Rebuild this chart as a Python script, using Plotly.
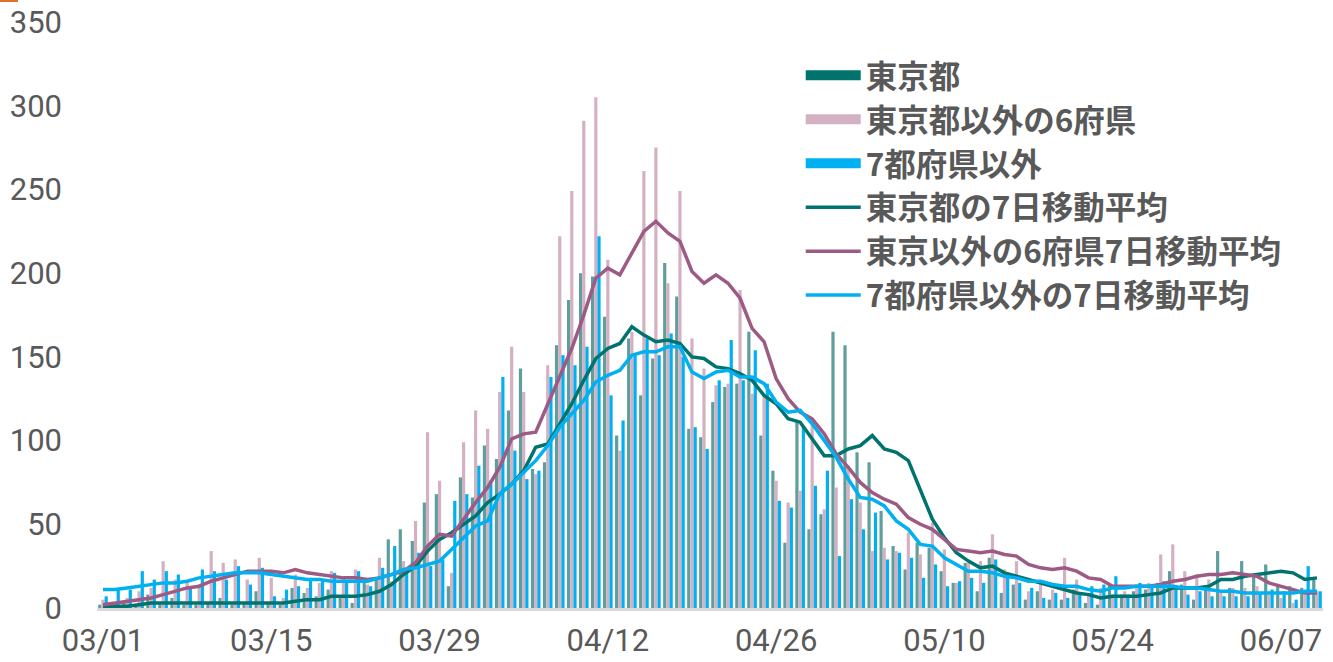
import pandas as pd
import plotly.graph_objects as go

dates = list(pd.date_range("2020-03-01", periods=102).strftime("%m/%d"))

tokyo = [2,1,3,2,8,3,6,2,2,3,6,2,3,10,3,2,12,9,7,11,6,3,16,17,41,47,40,63,68,13,78,
         66,97,89,118,143,83,87,157,184,200,198,174,103,161,127,149,206,186,107,102,123,132,134,165,103,82,39,112,47,56,
         165,157,93,87,58,37,23,39,36,22,15,27,10,30,9,14,5,10,5,5,11,3,2,14,8,10,11,15,22,14,5,
         13,34,12,28,20,26,14,13,12,18]
six_pref = [5,3,6,10,12,28,17,16,14,34,27,29,17,30,18,6,20,12,15,22,18,23,14,30,16,28,52,105,76,21,99,
            118,107,129,156,129,80,145,222,249,291,305,208,94,165,261,275,194,249,161,143,133,134,190,128,127,76,63,70,110,59,
            72,85,63,34,36,34,45,32,51,35,15,27,28,44,23,28,10,14,11,30,17,9,12,8,10,12,15,32,38,22,20,
            17,9,12,12,13,8,6,3,8,10]
others = [7,12,11,22,17,22,20,13,23,22,17,25,14,24,7,11,13,18,16,21,15,22,13,24,37,23,33,25,29,64,68,
          85,76,138,94,77,82,138,151,145,156,222,127,112,152,161,151,164,150,108,95,136,160,136,154,134,64,60,108,73,82,
          31,65,47,57,29,33,30,18,26,13,16,18,15,29,18,15,12,6,9,6,9,13,14,19,8,15,14,16,12,8,10,
          7,7,7,7,9,11,10,5,25,10]

tokyo_ma = [1,1,1,2,3,3,3,3,3,3,3,3,3,3,3,3,4,5,5,7,7,7,8,10,14,
            20,25,34,41,45,50,55,63,68,74,82,96,98,110,122,136,149,155,158,
            168,163,159,160,158,150,149,144,143,140,136,127,122,113,111,101,91,91,95,97,
            103,95,93,88,70,53,42,33,28,24,25,21,19,17,15,13,11,9,8,6,
            7,7,7,8,9,12,12,12,13,17,17,19,20,21,22,21,17,18]
six_pref_ma = [2,3,4,5,6,8,10,12,13,16,18,20,22,22,22,21,23,21,20,19,18,18,17,18,20,
               22,27,37,44,43,53,63,72,84,101,104,105,122,138,155,175,197,203,199,212,
               225,231,224,219,201,194,199,194,185,167,159,137,125,117,113,104,92,84,75,
               69,65,62,54,50,47,41,35,34,33,34,32,31,26,24,23,24,22,18,17,
               13,13,13,13,14,16,17,19,20,20,21,20,19,15,13,11,9,9]
others_ma = [11,11,12,13,14,15,15,16,18,19,20,21,21,21,20,19,18,17,17,16,16,16,16,18,20,
             23,24,26,28,35,42,49,52,68,74,81,88,97,108,116,124,135,139,142,151,
             153,153,156,156,141,137,141,142,138,138,134,123,117,118,110,100,90,77,66,
             65,61,52,47,38,37,30,26,22,22,21,19,18,16,16,14,13,13,11,10,
             12,12,13,13,13,13,12,12,11,10,10,9,9,9,9,9,10,10]

tick_labels = dates[::14]

GRAY = "#595959"
fig = go.Figure()

bar_series = [("東京都", tokyo, "#5E9E9C", "#00736E"),
              ("東京都以外の6府県", six_pref, "#D3B1C3", "#D3B1C3"),
              ("7都府県以外", others, "#00B0F0", "#00B0F0")]
for name, vals, col, _ in bar_series:
    fig.add_trace(go.Bar(x=dates, y=vals, name=name, marker_color=col,
                         marker_line_width=0, showlegend=False))
# legend swatches for the bar series
for name, _, _, lcol in bar_series:
    fig.add_trace(go.Scatter(x=[None], y=[None], mode="lines", name=name,
                             line=dict(color=lcol, width=13)))

line_series = [("東京都の7日移動平均", tokyo_ma, "#00736E"),
               ("東京以外の6府県7日移動平均", six_pref_ma, "#9C5A84"),
               ("7都府県以外の7日移動平均", others_ma, "#00B0F0")]
for name, vals, col in line_series:
    fig.add_trace(go.Scatter(x=dates, y=vals, name=name, mode="lines",
                             line=dict(color=col, width=3.5)))

fig.update_layout(
    width=1333, height=662,
    margin=dict(l=97, r=10, t=22, b=54),
    paper_bgcolor="white", plot_bgcolor="white",
    barmode="group", bargap=0.2, bargroupgap=0,
    legend=dict(x=0.574, y=0.955, xanchor="left", yanchor="top",
                font=dict(family="Noto Sans CJK JP", size=31.5, color=GRAY, weight="bold"),
                bgcolor="rgba(0,0,0,0)", itemwidth=55, tracegroupgap=0,
                traceorder="normal"),
    xaxis=dict(type="category", tickmode="array", tickvals=tick_labels, ticktext=tick_labels,
               range=[-0.5, len(dates) - 0.5], showgrid=False, showline=True,
               linecolor="#D9D9D9", linewidth=3, ticks="", ticklabelstandoff=3,
               automargin=False,
               tickfont=dict(family="Roboto", size=31, color=GRAY)),
    yaxis=dict(range=[0, 350], dtick=50, showgrid=False, zeroline=False, showline=False,
               ticks="", ticklabelstandoff=34, automargin=False,
               tickfont=dict(family="Roboto", size=31, color=GRAY)),
    shapes=[dict(type="rect", xref="paper", yref="paper",
                 x0=-97/1226, x1=(18-97)/1226, y0=1+20/586, y1=1+22/586,
                 fillcolor="#E0702A", line_width=0)],
)

fig.write_html("out.html", config={"displayModeBar": False},
               post_script="document.body.style.margin='0';document.body.style.overflow='hidden';")
